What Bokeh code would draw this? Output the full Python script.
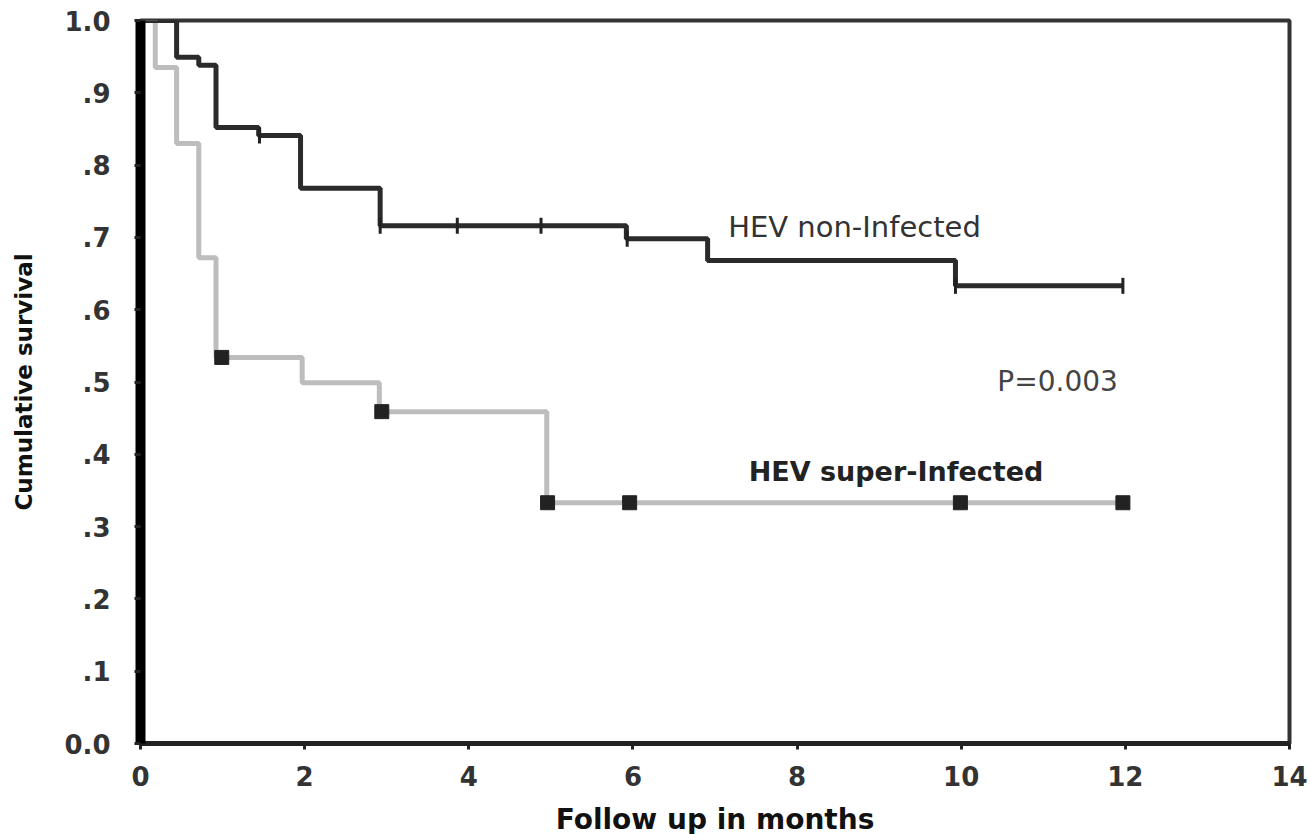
import numpy as np
from bokeh.plotting import figure
from bokeh.models import Range1d, FixedTicker, Label
from bokeh.embed import file_html
from bokeh.resources import INLINE

# ---------------- data ----------------
months_non = [0, 0.44, 0.71, 0.92, 1.44, 1.95, 2.92, 5.92, 6.91, 9.93, 11.97]
surv_non = [1.0, 0.949, 0.938, 0.852, 0.841, 0.768, 0.716, 0.698, 0.668, 0.633, 0.633]
cens_non_t = [1.45, 2.92, 3.86, 4.88, 5.93, 9.93, 11.97]
cens_non_s = [0.841, 0.716, 0.716, 0.716, 0.698, 0.633, 0.633]

months_sup = [0, 0.18, 0.44, 0.71, 0.92, 1.97, 2.91, 4.95, 11.97]
surv_sup = [1.0, 0.935, 0.830, 0.672, 0.534, 0.499, 0.459, 0.333, 0.333]
cens_sup_t = [0.99, 2.94, 4.96, 5.96, 9.99, 11.97]
cens_sup_s = [0.534, 0.459, 0.333, 0.333, 0.333, 0.333]

x_ticks = [0, 2, 4, 6, 8, 10, 12, 14]
y_ticks = [0.0, 0.1, 0.2, 0.3, 0.4, 0.5, 0.6, 0.7, 0.8, 0.9, 1.0]
y_tick_labels = ["0.0", ".1", ".2", ".3", ".4", ".5", ".6", ".7", ".8", ".9", "1.0"]

label_non = "HEV non-Infected"
label_sup = "HEV super-Infected"
label_p = "P=0.003"

# ---------------- figure ----------------
p = figure(width=1309, height=832, frame_width=1149, frame_height=723,
           x_range=Range1d(0, 14), y_range=Range1d(0, 1.0),
           output_backend="svg", toolbar_location=None,
           min_border_left=140, min_border_right=20,
           min_border_top=20, min_border_bottom=89)

p.background_fill_color = "white"
p.border_fill_color = "white"
p.outline_line_color = "#333333"
p.outline_line_width = 4
p.xgrid.visible = False
p.ygrid.visible = False

p.xaxis.ticker = FixedTicker(ticks=x_ticks)
p.yaxis.ticker = FixedTicker(ticks=y_ticks)
p.yaxis.major_label_overrides = {t: l for t, l in zip(y_ticks, y_tick_labels)}

for ax in (p.xaxis, p.yaxis):
    ax.major_tick_out = 6
    ax.major_tick_in = 0
    ax.minor_tick_line_color = None
    ax.major_tick_line_width = 3
    ax.major_tick_line_color = "#222222"
    ax.major_label_text_font = "DejaVu Sans"
    ax.major_label_text_font_style = "bold"
    ax.major_label_text_font_size = "26px"
    ax.major_label_text_color = "#333333"
    ax.axis_label_text_font = "DejaVu Sans"
    ax.axis_label_text_font_style = "bold"
    ax.axis_label_text_color = "#111111"

p.xaxis.axis_line_width = 5
p.xaxis.axis_line_color = "#222222"
p.yaxis.axis_line_width = 10
p.yaxis.axis_line_color = "#000000"

p.xaxis.axis_label = "Follow up in months"
p.xaxis.axis_label_text_font_size = "28px"
p.xaxis.major_label_standoff = 16
p.xaxis.axis_label_standoff = 14

p.yaxis.axis_label = "Cumulative survival"
p.yaxis.axis_label_text_font_size = "23px"
p.yaxis.major_label_standoff = 24
p.yaxis.axis_label_standoff = 24

# ---------------- curves ----------------
p.step(months_sup, surv_sup, mode="after", line_color="#bdbdbd", line_width=5)
p.step(months_non, surv_non, mode="after", line_color="#2b2b2b", line_width=5)

p.scatter(cens_sup_t, cens_sup_s, marker="square", size=14,
          fill_color="#222222", line_color="#222222")
p.scatter(cens_non_t, cens_non_s, marker="dash", angle=np.pi / 2, size=16,
          line_width=3, line_color="#222222")

# ---------------- annotations ----------------
p.add_layout(Label(x=7.16, y=0.714, text=label_non, text_baseline="middle",
                   text_font="DejaVu Sans", text_font_size="29px",
                   text_color="#333333"))
p.add_layout(Label(x=10.44, y=0.501, text=label_p, text_baseline="middle",
                   text_font="DejaVu Sans", text_font_size="28px",
                   text_color="#444444"))
p.add_layout(Label(x=7.41, y=0.376, text=label_sup, text_baseline="middle",
                   text_font="DejaVu Sans", text_font_size="27px",
                   text_font_style="bold", text_color="#222222"))

open("out.html", "w").write(file_html(p, INLINE))
